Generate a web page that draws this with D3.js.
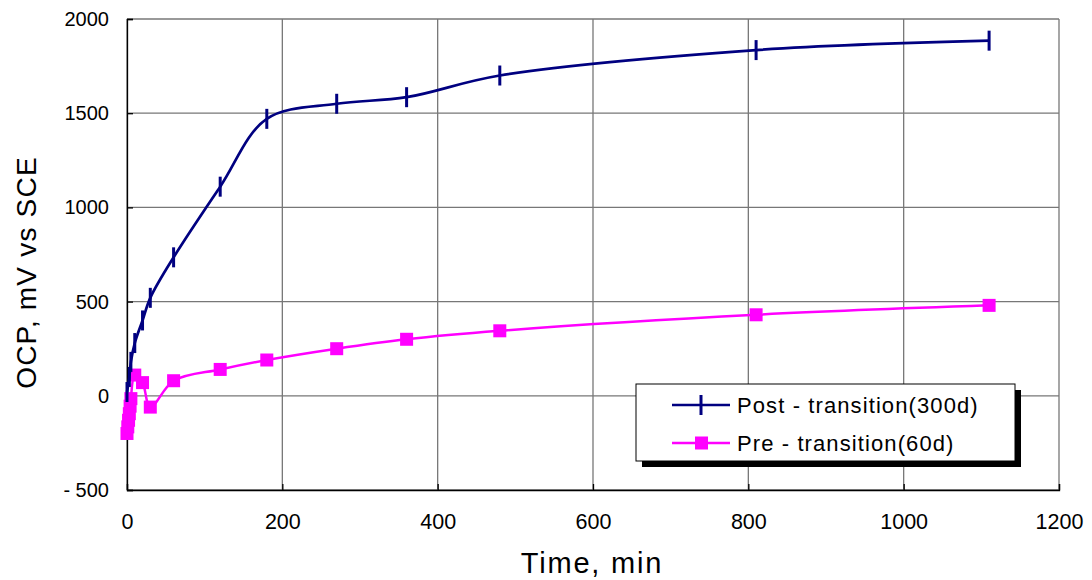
<!DOCTYPE html>
<html><head><meta charset="utf-8">
<script src="https://cdn.jsdelivr.net/npm/d3@7"></script>
<style>body{margin:0;background:#fff}svg{display:block}text{font-family:"Liberation Sans",Arial,sans-serif;fill:#000}</style>
</head><body><svg id="c" width="1092" height="580"></svg>
<script>
const postTime = [0, 3, 5, 10, 20, 30, 60, 120, 180, 270, 360, 480, 810, 1110];
const postOCP  = [20, 100, 180, 280, 400, 520, 735, 1110, 1470, 1550, 1585, 1700, 1835, 1885];
const preTime  = [0, 1, 2, 3, 4, 5, 10, 20, 30, 60, 120, 180, 270, 360, 480, 810, 1110];
const preOCP   = [-200, -165, -130, -95, -55, -15, 110, 70, -60, 80, 140, 190, 250, 300, 345, 430, 480];
const xTicks = [0, 200, 400, 600, 800, 1000, 1200];
const yTicks = [-500, 0, 500, 1000, 1500, 2000];
const seriesNames = ["Post - transition(300d)", "Pre - transition(60d)"];

const svg = d3.select("#c");
const L = 127, R = 1059, T = 19, B = 490;
const x = d3.scaleLinear().domain([0, 1200]).range([L, R]);
const y = d3.scaleLinear().domain([-500, 2000]).range([B, T]);

// gridlines
svg.append("g").selectAll("line").data(yTicks).join("line")
  .attr("x1", L).attr("x2", R).attr("y1", d => y(d)).attr("y2", d => y(d))
  .attr("stroke", "#777").attr("stroke-width", 1.3);
svg.append("g").selectAll("line").data(xTicks).join("line")
  .attr("y1", T).attr("y2", B).attr("x1", d => x(d)).attr("x2", d => x(d))
  .attr("stroke", "#777").attr("stroke-width", 1.3);

// axes
const xa = svg.append("g").attr("transform", `translate(0,${B})`)
  .call(d3.axisBottom(x).tickValues(xTicks).tickSize(-6).tickPadding(24).tickFormat(d3.format("d")));
const ya = svg.append("g").attr("transform", `translate(${L},0)`)
  .call(d3.axisLeft(y).tickValues(yTicks).tickSize(-6).tickPadding(18).tickFormat(d => d < 0 ? "- " + Math.abs(d) : d));
[xa, ya].forEach(a => {
  a.select(".domain").attr("stroke", "#000").attr("stroke-width", 1.3);
  a.selectAll(".tick line").attr("stroke", "#000").attr("stroke-width", 1.3);
  a.selectAll("text").attr("font-size", 20).attr("font-family", '"Liberation Sans",Arial,sans-serif').attr("fill", "#000");
});
xa.selectAll("text").attr("font-size", 21.5);

// lines
const line = d3.line().curve(d3.curveCatmullRom.alpha(0.5));
const postPts = postTime.map((t, i) => [x(t), y(postOCP[i])]);
const prePts = preTime.map((t, i) => [x(t), y(preOCP[i])]);
svg.append("path").attr("d", line(prePts)).attr("fill", "none").attr("stroke", "#FF00FF").attr("stroke-width", 2.5);
svg.selectAll(".sq").data(prePts).join("rect").attr("class", "sq")
  .attr("x", d => d[0] - 6.5).attr("y", d => d[1] - 6.5).attr("width", 13).attr("height", 13).attr("fill", "#FF00FF");
svg.append("path").attr("d", line(postPts)).attr("fill", "none").attr("stroke", "#000080").attr("stroke-width", 2.7);
svg.selectAll(".tk").data(postPts).join("line").attr("class", "tk")
  .attr("x1", d => d[0]).attr("x2", d => d[0]).attr("y1", d => d[1] - 10).attr("y2", d => d[1] + 10)
  .attr("stroke", "#000080").attr("stroke-width", 3);

// axis titles
svg.append("text").attr("x", 592).attr("y", 573).attr("text-anchor", "middle")
  .attr("font-size", 29).attr("letter-spacing", 1.8).text("Time, min");
svg.append("text").attr("transform", `translate(36,${(T + B) / 2 + 18}) rotate(-90)`).attr("text-anchor", "middle")
  .attr("font-size", 28).attr("letter-spacing", 1.2).text("OCP, mV vs SCE");

// legend
const lg = svg.append("g");
lg.append("rect").attr("x", 642).attr("y", 390).attr("width", 379).attr("height", 77).attr("fill", "#000");
lg.append("rect").attr("x", 636).attr("y", 384).attr("width", 379).attr("height", 77).attr("fill", "#fff").attr("stroke", "#000").attr("stroke-width", 1);
const ly = [405, 443];
const colors = ["#000080", "#FF00FF"];
seriesNames.forEach((n, i) => {
  lg.append("line").attr("x1", 672).attr("x2", 730).attr("y1", ly[i]).attr("y2", ly[i]).attr("stroke", colors[i]).attr("stroke-width", 2.5);
  if (i === 0) lg.append("line").attr("x1", 701).attr("x2", 701).attr("y1", ly[i] - 10).attr("y2", ly[i] + 10).attr("stroke", colors[i]).attr("stroke-width", 3);
  else lg.append("rect").attr("x", 695).attr("y", ly[i] - 6.5).attr("width", 13).attr("height", 13).attr("fill", colors[i]);
  lg.append("text").attr("x", 737).attr("y", ly[i] + 8).attr("font-size", 22).attr("letter-spacing", 1.1).text(n);
});
</script></body></html>
